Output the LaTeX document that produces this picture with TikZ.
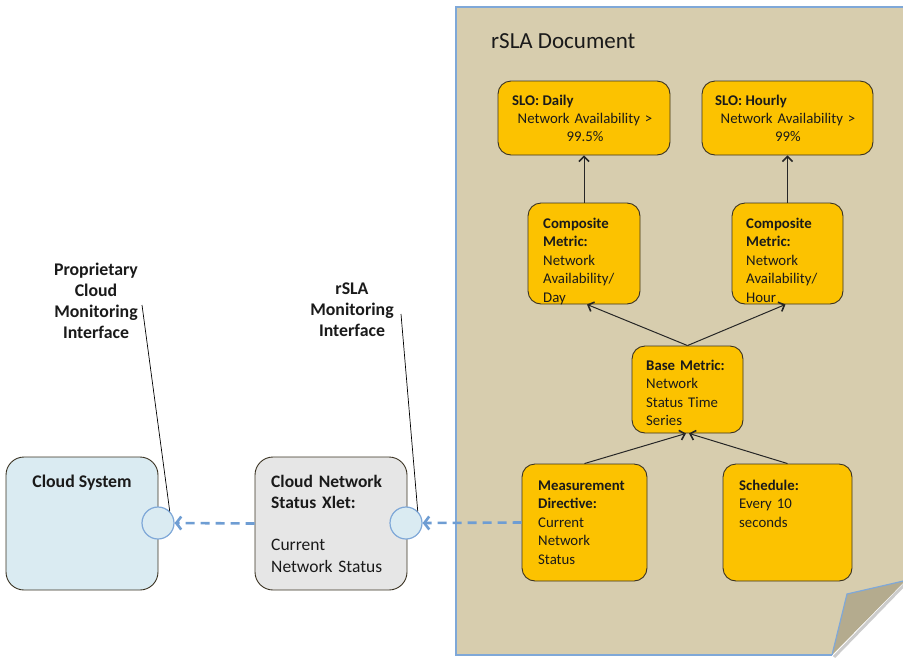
\documentclass[tikz,border=0pt]{standalone}
\usepackage{fontspec}
\setmainfont{Carlito}
\usetikzlibrary{arrows.meta}

\definecolor{pagefill}{HTML}{D7CDAE}
\definecolor{pageline}{HTML}{7FA8D8}
\definecolor{foldfill}{HTML}{B4AB8E}
\definecolor{yfill}{HTML}{FCC200}
\definecolor{yline}{HTML}{3A3222}
\definecolor{cloudfill}{HTML}{DAEBF2}
\definecolor{xletfill}{HTML}{E6E6E6}
\definecolor{dashblue}{HTML}{6E9DD3}
\definecolor{txt}{HTML}{1A1A1A}

\begin{document}
\begin{tikzpicture}[x=1pt,y=-1pt,
  ybox/.style={draw=yline, fill=yfill, line width=0.9pt, rounded corners=13pt, inner sep=0pt},
  gbox/.style={draw=yline, line width=0.9pt, rounded corners=18pt, inner sep=0pt},
  port/.style={circle, draw=pageline, fill=cloudfill, line width=1.2pt, minimum size=32pt, inner sep=0pt},
  btxt/.style={text=txt, inner sep=0pt, align=left, font=\fontsize{14.8}{18.6}\selectfont},
  ctxt/.style={text=txt, inner sep=0pt, align=center, font=\fontsize{14.8}{18}\selectfont},
  ltxt/.style={text=txt, inner sep=0pt, align=center, font=\fontsize{17.8}{21.3}\selectfont\bfseries},
  xtxt/.style={text=txt, inner sep=0pt, align=left, font=\fontsize{17.5}{21.3}\selectfont},
  blk/.style={draw=black!85, line width=1pt, -{Straight Barb[length=5pt,width=10pt,line width=1.6pt]}},
  bluearr/.style={draw=dashblue, line width=2.6pt, dash pattern=on 9pt off 6pt, -{Straight Barb[length=5pt,width=13pt]}},
  callout/.style={draw=black, line width=0.7pt}
]
\useasboundingbox (0,0) rectangle (903,657);
\clip (0,0) rectangle (903,657);

% rSLA document page with folded corner
\path[fill=pagefill] (456,7) -- (915,7) -- (915,569) -- (832,655) -- (456,655) -- cycle;
\draw[pageline, line width=1.2pt] (915,7) -- (456,7) -- (456,655) -- (832,655);
\draw[black!40, opacity=0.5, line width=3pt] (834,657) -- (907,582);
\path[fill=foldfill] (832,655) -- (847,594) -- (905.6,580.5) -- cycle;
\draw[pageline, line width=1.2pt] (832,655) -- (847,594) -- (905.6,580.5);
\node[anchor=base west, text=txt, inner sep=0pt, font=\fontsize{23}{26}\selectfont] (title) at (491,48) {rSLA Document};

% yellow boxes
\node[ybox, minimum width=172pt, minimum height=74pt] (sday) at (584,118) {};
\node[ybox, minimum width=171pt, minimum height=74pt] (shour) at (787.5,118) {};
\node[ybox, minimum width=112pt, minimum height=101pt] (cday) at (584,253.5) {};
\node[ybox, minimum width=111pt, minimum height=101pt] (chour) at (787.5,253.5) {};
\node[ybox, minimum width=111pt, minimum height=87pt] (base) at (687.5,389.5) {};
\node[ybox, minimum width=125pt, minimum height=117pt] (meas) at (584.5,522.5) {};
\node[ybox, minimum width=129pt, minimum height=117pt] (sched) at (787.5,522.5) {};

% texts in yellow boxes
\node[btxt, anchor=base west] (sdayt) at (512,105) {\textbf{SLO: Daily}};
\node[ctxt, anchor=base, text width=160pt] (sdayb) at (585,123) {Network Availability >\\99.5\%};
\node[btxt, anchor=base west] (shourt) at (715,105) {\textbf{SLO: Hourly}};
\node[ctxt, anchor=base, text width=160pt] (shourb) at (788,123) {Network Availability >\\99\%};
\node[btxt, anchor=base west, text width=100pt] (cdayt) at (543,228) {\textbf{Composite}\\\textbf{Metric:}\\Network\\Availability/\\Day};
\node[btxt, anchor=base west, text width=100pt] (chourt) at (746,228) {\textbf{Composite}\\\textbf{Metric:}\\Network\\Availability/\\Hour};
\node[btxt, anchor=base west, text width=100pt] (baset) at (646,370) {\textbf{Base Metric:}\\Network\\Status Time\\Series};
\node[btxt, anchor=base west, text width=110pt] (meast) at (538,490) {\textbf{Measurement}\\\textbf{Directive:}\\Current\\Network\\Status};
\node[btxt, anchor=base west, text width=110pt] (schedt) at (739,490) {\textbf{Schedule:}\\Every 10\\seconds};

% black arrows
\draw[blk] (cday.north) -- (sday.south);
\draw[blk] (chour.north) -- (shour.south);
\draw[blk] (base.north) -- ([xshift=3pt]cday.south);
\draw[blk] (base.north) -- ([xshift=-2pt]chour.south);
\draw[blk] (meas.north) -- ([xshift=-1.5pt]base.south);
\draw[blk] (sched.north) -- ([xshift=1.5pt]base.south);

% left components
\node[gbox, fill=cloudfill, minimum width=152pt, minimum height=133pt] (cloud) at (82,523.5) {};
\node[gbox, fill=xletfill, minimum width=152pt, minimum height=133pt] (xlet) at (331,523.5) {};
\node[ltxt, anchor=base] (cloudt) at (82,487) {Cloud System};
\node[xtxt, anchor=base west, text width=140pt] (xlett) at (271,487) {\textbf{Cloud Network}\\\textbf{Status Xlet:}\\[21.3pt]Current\\Network Status};

\node[port] (p1) at (158,523) {};
\node[port] (p2) at (406,523) {};

\draw[bluearr] (xlet.west) -- (p1.east);
\draw[bluearr] (meas.west) -- (p2.east);

% callouts
\node[ltxt, anchor=base, text width=120pt] (l1t) at (96,275) {Proprietary\\Cloud\\Monitoring\\Interface};
\node[ltxt, anchor=base, text width=120pt] (l2t) at (352,294) {rSLA\\Monitoring\\Interface};
\coordinate (c1) at (142,305);
\coordinate (c2) at (401,314);
\draw[callout] (c1) -- (p1.north east);
\draw[callout] (c2) -- (p2.north east);
\end{tikzpicture}
\end{document}
